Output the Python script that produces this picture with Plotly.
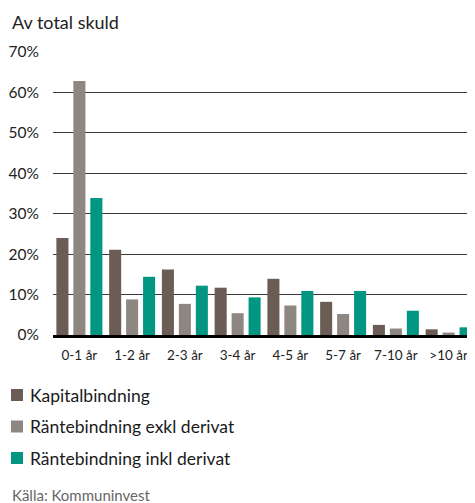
import plotly.graph_objects as go

categories = ["0-1 år", "1-2 år", "2-3 år", "3-4 år", "4-5 år", "5-7 år", "7-10 år", ">10 år"]
kapitalbindning = [24.0, 21.1, 16.2, 11.7, 13.9, 8.2, 2.5, 1.4]
rante_exkl = [62.8, 8.8, 7.7, 5.4, 7.3, 5.2, 1.6, 0.6]
rante_inkl = [33.9, 14.4, 12.2, 9.3, 10.9, 10.9, 6.0, 1.9]
y_ticks = [0, 10, 20, 30, 40, 50, 60, 70]
y_tick_labels = [f"{v}%" for v in y_ticks]

series = [
    ("Kapitalbindning", kapitalbindning, "#6b5d55"),
    ("Räntebindning exkl derivat", rante_exkl, "#8e8680"),
    ("Räntebindning inkl derivat", rante_inkl, "#009682"),
]

# the page body has an 8px margin, so the figure is made 8px smaller
PAGE = 8
W, H = 475 - PAGE, 503 - PAGE
# plot area in window pixels
X0, X1, Y0, Y1 = 53, 475, 52, 335
FONT = "Lato"


def px_x(x):
    return (x - X0) / (X1 - X0)


def px_y(y):
    return (Y1 - y) / (Y1 - Y0)


fig = go.Figure()
for name, vals, col in series:
    fig.add_trace(go.Bar(x=categories, y=vals, name=name, marker_color=col,
                         marker_line_width=0, showlegend=False))

# legend drawn by hand so square and text sit close together
for i, (name, vals, col) in enumerate(series):
    yc = 395 + i * 31.5
    fig.add_shape(type="rect", xref="paper", yref="paper",
                  x0=px_x(11), x1=px_x(23), y0=px_y(yc + 6), y1=px_y(yc - 6),
                  fillcolor=col, line_width=0)
    fig.add_annotation(text=name, xref="paper", yref="paper", x=px_x(28), y=px_y(yc),
                       xanchor="left", yanchor="middle", showarrow=False,
                       font=dict(size=17.5, color="#1a1a1a", family=FONT))

fig.add_annotation(text="Av total skuld", xref="paper", yref="paper", x=px_x(10), y=px_y(22),
                   xanchor="left", yanchor="middle", showarrow=False,
                   font=dict(size=18, color="#222", family=FONT))
fig.add_annotation(text="Källa: Kommuninvest", xref="paper", yref="paper", x=px_x(10), y=px_y(495),
                   xanchor="left", yanchor="middle", showarrow=False,
                   font=dict(size=15, color="#666", family=FONT))

fig.update_layout(
    width=W, height=H,
    margin=dict(l=X0 - PAGE, r=475 - X1, t=Y0 - PAGE, b=503 - Y1),
    paper_bgcolor="white", plot_bgcolor="white",
    barmode="group", bargap=0.035, bargroupgap=0.29,
    font=dict(family=FONT, size=13, color="#222"),
)
fig.update_yaxes(range=[0, 70], tickvals=y_ticks, ticktext=y_tick_labels,
                 showgrid=True, gridcolor="#3a3a3a", gridwidth=1, zeroline=False,
                 ticks="", ticklabelstandoff=13, tickfont=dict(size=15.5))
fig.update_xaxes(showline=True, linecolor="black", linewidth=3, ticks="",
                 ticklabelstandoff=6, tickfont=dict(size=13.5))

fig.write_html("out.html")
